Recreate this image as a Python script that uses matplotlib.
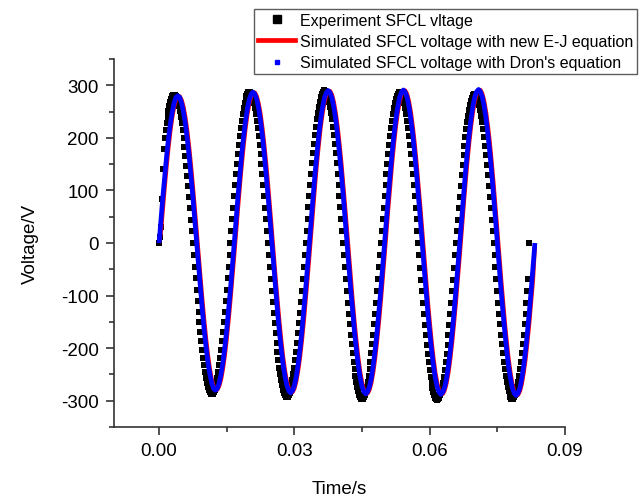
import matplotlib
matplotlib.use("Agg")
import matplotlib.pyplot as plt
import numpy as np
from matplotlib.lines import Line2D
from matplotlib.ticker import MultipleLocator, FormatStrFormatter

plt.rcParams["font.family"] = ["Liberation Sans", "DejaVu Sans"]
plt.rcParams["axes.unicode_minus"] = False

# sample intervals (s)
DT_EXP = 1 / 4800
DT_SIM = 1 / 2400

# experiment SFCL voltage (V), one sample every DT_EXP
v_exp = [
    0, 12, 30, 84, 140, 178, 200, 214, 228, 240, 251, 261, 268, 274, 279, 281, 282, 281,
    279, 274, 268, 261, 251, 240, 228, 214, 199, 183, 166, 147, 128, 108, 87, 66, 44, 22,
    0, -23, -45, -67, -89, -110, -131, -150, -169, -187, -204, -219, -233, -246, -257, -266,
    -274, -280, -284, -287, -288, -287, -284, -280, -274, -266, -257, -246, -233, -219,
    -204, -187, -169, -150, -131, -110, -89, -67, -45, -23,
    0, 23, 45, 67, 89, 110, 131, 150, 169, 187, 204, 219, 233, 246, 257, 266,
    274, 280, 284, 287, 288, 287, 284, 280, 274, 266, 257, 246, 233, 219,
    204, 187, 169, 150, 131, 110, 89, 67, 45, 23,
    0, -23, -46, -68, -91, -112, -133, -153, -172, -190, -207, -223, -237, -250, -261, -271,
    -279, -285, -289, -292, -293, -292, -289, -285, -279, -271, -261, -250, -237, -223,
    -207, -190, -172, -153, -133, -112, -91, -68, -46, -23,
    0, 23, 46, 68, 90, 111, 132, 152, 171, 189, 206, 221, 235, 248, 259, 269,
    277, 283, 287, 290, 291, 290, 287, 283, 277, 269, 259, 248, 235, 221,
    206, 189, 171, 152, 132, 111, 90, 68, 46, 23,
    0, -23, -46, -69, -92, -114, -135, -155, -175, -193, -210, -226, -240, -253, -265, -274,
    -282, -289, -293, -296, -297, -296, -293, -289, -282, -274, -265, -253, -240, -226,
    -210, -193, -175, -155, -135, -114, -92, -69, -46, -23,
    0, 23, 45, 67, 89, 110, 131, 150, 169, 187, 204, 219, 233, 246, 257, 266,
    274, 280, 284, 287, 288, 287, 284, 280, 274, 266, 257, 246, 233, 219,
    204, 187, 169, 150, 131, 110, 89, 67, 45, 23,
    0, -23, -47, -70, -92, -114, -135, -156, -175, -194, -211, -227, -241, -254, -266, -275,
    -283, -290, -294, -297, -298, -297, -294, -290, -283, -275, -266, -254, -241, -227,
    -211, -194, -175, -156, -135, -114, -92, -70, -47, -23,
    0, 22, 44, 66, 88, 109, 129, 148, 167, 184, 201, 216, 230, 242, 253, 262,
    270, 276, 281, 283, 284, 283, 281, 276, 270, 262, 253, 242, 230, 216,
    201, 184, 167, 148, 129, 109, 88, 66, 44, 22,
    0, -23, -46, -69, -92, -114, -135, -155, -175, -193, -210, -226, -240, -253, -265, -274,
    -282, -289, -293, -296, -297, -296, -293, -289, -282, -274, -265, -253, -240, -226,
    -210, -193, -175, -155, -135, -114, -92, -69, 0,
]

# simulated voltage, new E-J equation (V), one sample every DT_SIM
v_ej = [
    0,
    22, 65, 107, 146, 182, 213, 239, 259, 272, 279, 279, 272, 259, 239, 213, 182, 146, 107, 65, 22,
    -22, -65, -107, -146, -182, -213, -239, -259, -272, -279, -279, -272, -259, -239, -213, -182, -146, -107, -65, -22,
    23, 67, 110, 150, 186, 218, 245, 265, 279, 286, 286, 279, 265, 245, 218, 186, 150, 110, 67, 23,
    -22, -67, -109, -149, -185, -217, -243, -263, -277, -284, -284, -277, -263, -243, -217, -185, -149, -109, -67, -22,
    23, 68, 111, 152, 188, 221, 247, 268, 282, 289, 289, 282, 268, 247, 221, 188, 152, 111, 68, 23,
    -23, -67, -110, -150, -186, -218, -245, -265, -279, -286, -286, -279, -265, -245, -218, -186, -150, -110, -67, -23,
    23, 68, 111, 152, 189, 221, 248, 269, 283, 290, 290, 283, 269, 248, 221, 189, 152, 111, 68, 23,
    -23, -67, -110, -150, -187, -219, -246, -266, -280, -287, -287, -280, -266, -246, -219, -187, -150, -110, -67, -23,
    23, 68, 112, 153, 190, 222, 249, 270, 284, 291, 291, 284, 270, 249, 222, 190, 153, 112, 68, 23,
    -23, -68, -111, -152, -188, -221, -247, -268, -282, -289, -289, -282, -268, -247, -221, -188, -152, -111, -68, -5,
]

# simulated voltage, Dron's equation (V), one sample every DT_SIM
v_dron = [
    0, 44, 87, 127, 165, 198, 227, 249, 266, 277, 280, 277, 266, 249, 227, 198, 165, 127, 87, 44,
    0, -44, -87, -127, -165, -198, -227, -249, -266, -277, -280, -277, -266, -249, -227, -198, -165, -127, -87, -44,
    0, 45, 89, 130, 169, 203, 232, 256, 273, 283, 287, 283, 273, 256, 232, 203, 169, 130, 89, 45,
    0, -45, -88, -129, -168, -202, -231, -254, -271, -281, -285, -281, -271, -254, -231, -202, -168, -129, -88, -45,
    0, 45, 90, 132, 170, 205, 235, 258, 276, 286, 290, 286, 276, 258, 235, 205, 170, 132, 90, 45,
    0, -45, -89, -130, -169, -203, -232, -256, -273, -283, -287, -283, -273, -256, -232, -203, -169, -130, -89, -45,
    0, 46, 90, 132, 171, 206, 235, 259, 277, 287, 291, 287, 277, 259, 235, 206, 171, 132, 90, 46,
    0, -45, -89, -131, -169, -204, -233, -257, -274, -284, -288, -284, -274, -257, -233, -204, -169, -131, -89, -45,
    0, 46, 90, 133, 172, 206, 236, 260, 278, 288, 292, 288, 278, 260, 236, 206, 172, 133, 90, 46,
    0, -45, -90, -132, -170, -205, -235, -258, -276, -286, -290, -286, -276, -258, -235, -205, -170, -132, -90, -45,
    0,
]

labels = [
    "Experiment SFCL vltage",
    "Simulated SFCL voltage with new E-J equation",
    "Simulated SFCL voltage with Dron's equation",
]

t_exp = np.arange(len(v_exp)) * DT_EXP
t_sim = np.arange(len(v_dron)) * DT_SIM

fig = plt.figure(figsize=(6.41, 5.02), dpi=100)
ax = fig.add_axes([0.1778, 0.1474, 0.7036, 0.7331])

ax.plot(t_exp, v_exp, ls="none", marker="s", ms=4.6, color="black", mec="black", mew=0, zorder=1)
ax.plot(t_sim, v_ej, color="#ff0000", lw=3.0, zorder=2, solid_capstyle="butt")
ax.plot(t_sim, v_dron, color="#0000ff", lw=3.4, zorder=3, solid_capstyle="butt")

ax.set_xlim(-0.01, 0.09)
ax.set_ylim(-350, 350)
ax.xaxis.set_major_locator(MultipleLocator(0.03))
ax.xaxis.set_minor_locator(MultipleLocator(0.015))
ax.xaxis.set_major_formatter(FormatStrFormatter("%.2f"))
ax.yaxis.set_major_locator(MultipleLocator(100))
ax.yaxis.set_minor_locator(MultipleLocator(50))

for side in ("top", "right"):
    ax.spines[side].set_visible(False)
for side in ("left", "bottom"):
    ax.spines[side].set_linewidth(1.2)
    ax.spines[side].set_color("#333333")
ax.tick_params(which="major", direction="out", length=6, width=1.2, color="#333333",
               labelsize=13.5, pad=5)
ax.tick_params(which="minor", direction="out", length=3.5, width=1.2, color="#333333")

ax.set_xlabel("Time/s", fontsize=13.5, labelpad=15)
ax.set_ylabel("Voltage/V", fontsize=13.5, labelpad=16)

handles = [
    Line2D([], [], ls="none", marker="s", ms=5.2, color="black"),
    Line2D([], [], color="#ff0000", lw=3.4),
    Line2D([], [], ls="none", marker="s", ms=2.2, color="#0000ff"),
]
leg = fig.legend(handles, labels, loc="upper right", bbox_to_anchor=(637 / 641, 1 - 10 / 502),
                 fontsize=11.5, frameon=True, fancybox=False, handlelength=2.3,
                 handletextpad=0.3, borderpad=0.25, labelspacing=0.38, borderaxespad=0)
leg.get_frame().set_edgecolor("#333333")
leg.get_frame().set_linewidth(1.0)

fig.savefig("out.png", dpi=100)
